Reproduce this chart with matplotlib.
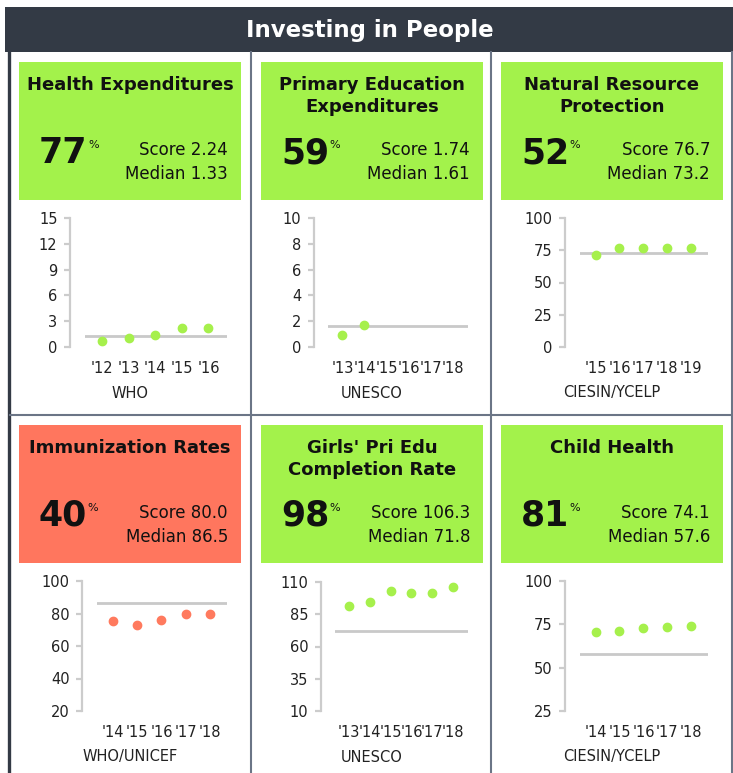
import matplotlib
matplotlib.use('Agg')
import matplotlib.pyplot as plt
from matplotlib.patches import Rectangle
from matplotlib.lines import Line2D

W, H = 733, 773
DPI = 100

# ---- data ----
titles = ["Health Expenditures", "Primary Education\nExpenditures", "Natural Resource\nProtection",
          "Immunization Rates", "Girls' Pri Edu\nCompletion Rate", "Child Health"]
percentiles = ["77", "59", "52", "40", "98", "81"]
scores = ["2.24", "1.74", "76.7", "80.0", "106.3", "74.1"]
medians = [1.33, 1.61, 73.2, 86.5, 71.8, 57.6]
median_labels = ["1.33", "1.61", "73.2", "86.5", "71.8", "57.6"]
sources = ["WHO", "UNESCO", "CIESIN/YCELP", "WHO/UNICEF", "UNESCO", "CIESIN/YCELP"]
passed = [True, True, True, False, True, True]

years = [
    ["'12", "'13", "'14", "'15", "'16"],
    ["'13", "'14", "'15", "'16", "'17", "'18"],
    ["'15", "'16", "'17", "'18", "'19"],
    ["'14", "'15", "'16", "'17", "'18"],
    ["'13", "'14", "'15", "'16", "'17", "'18"],
    ["'14", "'15", "'16", "'17", "'18"],
]
values = [
    [0.75, 1.1, 1.4, 2.2, 2.24],
    [0.93, 1.74],
    [71.4, 76.6, 76.7, 76.7, 76.7],
    [75.5, 72.8, 76.2, 79.8, 80.0],
    [91.5, 94.6, 102.8, 101.8, 101.8, 106.3],
    [70.4, 71.2, 72.9, 73.6, 74.1],
]
yticks = [
    [0, 3, 6, 9, 12, 15],
    [0, 2, 4, 6, 8, 10],
    [0, 25, 50, 75, 100],
    [20, 40, 60, 80, 100],
    [10, 35, 60, 85, 110],
    [25, 50, 75, 100],
]

GREEN = "#a3f24b"
RED = "#ff765e"
DOT_GREEN = "#a6f04c"
DOT_RED = "#ff7a5e"
HEADER = "#333a45"
SEP = "#6b7586"
AXIS = "#cccccc"
MEDLINE = "#c9c9c9"
TXT = "#111111"

FONT = "DejaVu Sans"

fig = plt.figure(figsize=(W / DPI, H / DPI), dpi=DPI)
fig.patch.set_facecolor("white")


def fx(x):
    return x / W


def fy(y):
    return 1 - y / H


# header bar
fig.patches.append(Rectangle((fx(5), fy(52)), fx(733 - 5), 45 / H, transform=fig.transFigure,
                             facecolor=HEADER, edgecolor="none", zorder=0))
fig.text(fx(370), fy(31), "Investing in People", color="white", fontsize=16.5, fontweight="bold",
         family=FONT, ha="center", va="center")

# grid borders
fig.lines.append(Line2D([fx(8.5), fx(8.5)], [fy(52), fy(773)], transform=fig.transFigure,
                        color=HEADER, lw=2.4))
for xs in (250.5, 491, 731.5):
    fig.lines.append(Line2D([fx(xs), fx(xs)], [fy(52), fy(773)], transform=fig.transFigure,
                            color=SEP, lw=1.5))
fig.lines.append(Line2D([fx(10), fx(733)], [fy(415), fy(415)], transform=fig.transFigure,
                        color=SEP, lw=1.5))

# panel geometry in pixels
panel_left = [10, 252, 493, 10, 252, 493]
panel_right = [250, 491, 731, 250, 491, 731]
box_left = [19, 261, 501, 19, 261, 501]
box_right = [241, 483, 723, 241, 483, 723]
row_top = [62, 62, 62, 425, 425, 425]
# axes rectangles: (x of median line start, x end, y of top tick, y of bottom tick, spine x)
ax_geo = [
    (85, 227, 218, 347, 70),
    (328, 468, 218, 347, 314),
    (580, 708, 218, 347, 565),
    (97, 227, 581, 711, 82),
    (335, 468, 582, 711, 321),
    (580, 708, 581, 711, 565),
]

texts_pct = []
for i in range(6):
    top = row_top[i]
    color = GREEN if passed[i] else RED
    fig.patches.append(Rectangle((fx(box_left[i]), fy(top + 138)), fx(box_right[i] - box_left[i]),
                                 138 / H, transform=fig.transFigure, facecolor=color,
                                 edgecolor="none", zorder=0))
    cx = (box_left[i] + box_right[i]) / 2
    fig.text(fx(cx), fy(top + 14), titles[i], ha="center", va="top", fontsize=13,
             fontweight="bold", family=FONT, color=TXT, linespacing=1.3)
    t = fig.text(fx(box_left[i] + 20), fy(top + 101), percentiles[i], ha="left", va="baseline",
                 fontsize=25, fontweight="bold", family=FONT, color=TXT)
    texts_pct.append((t, top))
    fig.text(fx(box_right[i] - 13), fy(top + 93), "Score " + scores[i], ha="right",
             va="baseline", fontsize=12, family=FONT, color=TXT)
    fig.text(fx(box_right[i] - 13), fy(top + 117), "Median " + median_labels[i], ha="right",
             va="baseline", fontsize=12, family=FONT, color=TXT)

    # mini chart
    x0, x1, yt, yb, sx = ax_geo[i]
    ax = fig.add_axes([fx(x0), fy(yb), fx(x1 - x0), (yb - yt) / H])
    ax.set_facecolor("none")
    n = len(years[i])
    ax.set_xlim(-0.65, n - 1 + 0.7)
    ax.set_ylim(yticks[i][0], yticks[i][-1])
    ax.axhline(medians[i], color=MEDLINE, lw=2.0, zorder=1)
    ax.plot(range(len(values[i])), values[i], "o", ms=6,
            color=DOT_GREEN if passed[i] else DOT_RED, zorder=3, clip_on=False)
    for s in ("top", "right", "bottom"):
        ax.spines[s].set_visible(False)
    ax.spines["left"].set_color(AXIS)
    ax.spines["left"].set_linewidth(1.6)
    ax.spines["left"].set_position(("outward", (x0 - sx) * 72 / DPI))
    ax.set_yticks(yticks[i])
    ax.set_yticklabels([str(v) for v in yticks[i]], fontsize=10.5, family=FONT, color="#222222")
    ax.tick_params(axis="y", length=4, width=1.6, color=AXIS, pad=5)
    ax.set_xticks(range(n))
    ax.set_xticklabels(years[i], fontsize=10.5, family=FONT, color="#222222")
    ax.tick_params(axis="x", length=0, pad=10)
    pc = (panel_left[i] + panel_right[i]) / 2
    fig.text(fx(pc), fy(yb + 46), sources[i], ha="center", va="center", fontsize=10.5,
             family=FONT, color="#222222")

# superscript % after each big number
fig.canvas.draw()
r = fig.canvas.get_renderer()
for t, top in texts_pct:
    bb = t.get_window_extent(renderer=r)
    fig.text((bb.x1 + 0.5) / W, fy(top + 78), "%", ha="left", va="top", fontsize=8,
             family=FONT, color=TXT)

fig.savefig("out.png", dpi=DPI, facecolor="white")
